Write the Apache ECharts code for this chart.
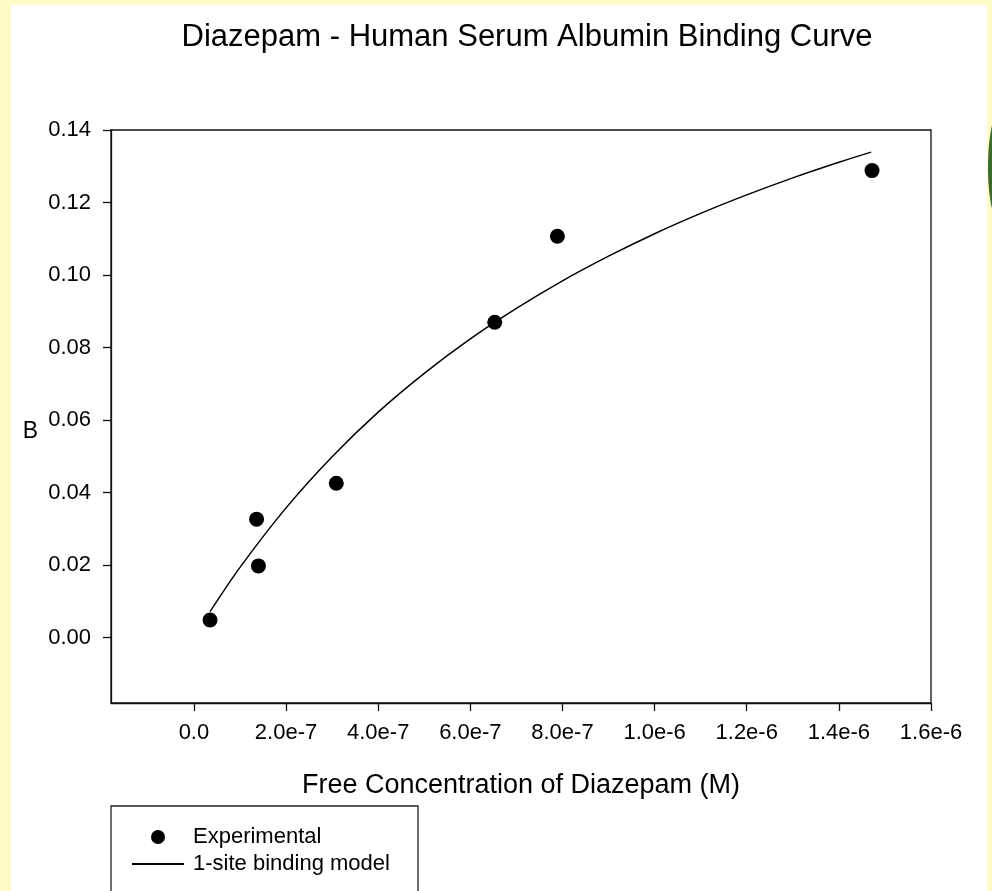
<!DOCTYPE html>
<html>
<head>
<meta charset="utf-8">
<script src="https://cdn.jsdelivr.net/npm/echarts@6/dist/echarts.min.js"></script>
<style>
  html, body { margin: 0; padding: 0; background: #fffbc9; }
  #chart { width: 992px; height: 891px; }
</style>
</head>
<body>
<div id="chart"></div>
<script>
// measured points
var expX = [3.5e-8, 1.36e-7, 1.40e-7, 3.09e-7, 6.53e-7, 7.89e-7, 1.472e-6];
var expY = [0.0049, 0.0327, 0.0198, 0.0426, 0.0870, 0.1107, 0.1288];
// fitted curve
var fitX = [3.5e-8, 1e-7, 2e-7, 3e-7, 4e-7, 5e-7, 6e-7, 7e-7, 8e-7, 9e-7, 1.0e-6, 1.1e-6, 1.2e-6, 1.3e-6, 1.4e-6, 1.47e-6];
var fitY = [0.0072, 0.0194, 0.0358, 0.0499, 0.0622, 0.0729, 0.0824, 0.0908, 0.0984, 0.1052, 0.1114, 0.1170, 0.1221, 0.1268, 0.1311, 0.1339];
// tick labels
var xTicks = [0, 2e-7, 4e-7, 6e-7, 8e-7, 1.0e-6, 1.2e-6, 1.4e-6, 1.6e-6];
var yTicks = [0, 0.02, 0.04, 0.06, 0.08, 0.10, 0.12, 0.14];

function pairs(xs, ys) {
    var out = [];
    for (var i = 0; i < xs.length; i++) {
        out.push([xs[i], ys[i]]);
    }
    return out;
}

var font = '"Liberation Sans", Arial, sans-serif';
var myChart = echarts.init(document.getElementById('chart'));

var option = {
    backgroundColor: '#fffbc9',
    animation: false,
    textStyle: { fontFamily: font, color: '#000' },
    graphic: [
        { type: 'rect', z: -10, silent: true, shape: { x: 11, y: 5, width: 976, height: 886 }, style: { fill: '#fff' } },
        { type: 'ellipse', z: -10, silent: true, shape: { cx: 1001, cy: 167, rx: 13, ry: 58 }, style: { fill: '#3c6a2e' } },
        { type: 'rect', z: -5, silent: true, shape: { x: 111, y: 806, width: 307, height: 120 },
          style: { fill: '#fff', stroke: '#222', lineWidth: 1.3 } }
    ],
    title: {
        text: 'Diazepam - Human Serum Albumin Binding Curve',
        left: 522,
        textAlign: 'center',
        top: 17,
        textStyle: { fontFamily: font, fontSize: 31, fontWeight: 'normal', color: '#000' }
    },
    legend: {
        orient: 'vertical',
        left: 126,
        top: 821,
        itemWidth: 52,
        itemHeight: 14,
        itemGap: 5,
        textStyle: { fontFamily: font, fontSize: 22, color: '#000', padding: [0, 0, 0, 4] },
        data: [
            { name: 'Experimental' },
            { name: '1-site binding model', itemStyle: { opacity: 0 } }
        ]
    },
    grid: {
        left: 111, top: 130, right: 61, bottom: 188,
        show: true, borderColor: '#111', borderWidth: 1.3, backgroundColor: 'transparent'
    },
    xAxis: {
        type: 'value',
        min: -1.8e-7,
        max: 1.6e-6,
        name: 'Free Concentration of Diazepam (M)',
        nameLocation: 'middle',
        nameGap: 69,
        nameTextStyle: { fontFamily: font, fontSize: 27, color: '#000' },
        axisLine: { onZero: false, lineStyle: { color: '#111', width: 1.3 } },
        axisTick: { show: true, inside: false, length: 8, customValues: xTicks, lineStyle: { color: '#111', width: 1.3 } },
        axisLabel: {
            customValues: xTicks,
            margin: 19,
            fontSize: 22,
            color: '#000',
            fontFamily: font,
            formatter: function (v) {
                return v === 0 ? '0.0' : v.toExponential(1);
            }
        },
        splitLine: { show: false }
    },
    yAxis: {
        type: 'value',
        min: -0.018,
        max: 0.14,
        name: 'B',
        nameLocation: 'middle',
        nameRotate: 0,
        nameGap: 73,
        nameTextStyle: { fontFamily: font, fontSize: 23, color: '#000', verticalAlign: 'top', padding: [4, 0, 0, 0] },
        axisLine: { onZero: false, lineStyle: { color: '#111', width: 1.3 } },
        axisTick: { show: true, inside: false, length: 8, customValues: yTicks, lineStyle: { color: '#111', width: 1.3 } },
        axisLabel: {
            customValues: yTicks,
            margin: 20,
            fontSize: 22,
            color: '#000',
            fontFamily: font,
            formatter: function (v) {
                return v.toFixed(2);
            }
        },
        splitLine: { show: false }
    },
    series: [
        {
            name: 'Experimental',
            type: 'scatter',
            symbol: 'circle',
            symbolSize: 15,
            itemStyle: { color: '#000', opacity: 1 },
            data: pairs(expX, expY),
            z: 3
        },
        {
            name: '1-site binding model',
            type: 'line',
            symbol: 'none',
            smooth: 0.3,
            lineStyle: { color: '#000', width: 1.5 },
            itemStyle: { color: '#000' },
            data: pairs(fitX, fitY),
            z: 2
        }
    ]
};

myChart.setOption(option);
</script>
</body>
</html>
